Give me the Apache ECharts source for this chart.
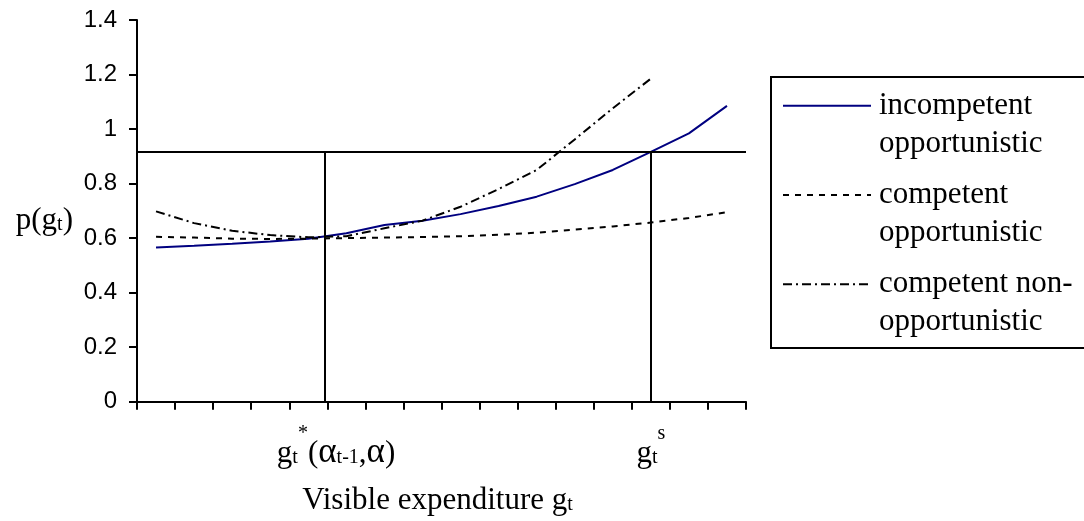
<!DOCTYPE html>
<html><head><meta charset="utf-8">
<script src="https://cdn.jsdelivr.net/npm/echarts@6.0.0/dist/echarts.min.js"></script>
<style>html,body{margin:0;padding:0;background:#fff}#c{width:1084px;height:521px}</style>
</head><body><div id="c"></div>
<script>
// x positions of the plotted points (centres of the 16 expenditure steps)
const xPositions = [0.5,1.5,2.5,3.5,4.5,5.5,6.5,7.5,8.5,9.5,10.5,11.5,12.5,13.5,14.5,15.5];
const seriesNames = ['incompetent\nopportunistic','competent\nopportunistic','competent non-\nopportunistic'];
const incompetentOpportunistic = [0.566,0.572,0.579,0.588,0.598,0.618,0.648,0.664,0.688,0.718,0.752,0.798,0.850,0.916,0.984,1.085];
const competentOpportunistic   = [0.605,0.602,0.598,0.597,0.598,0.600,0.602,0.604,0.607,0.612,0.620,0.631,0.643,0.657,0.674,0.695];
const competentNonOpportunistic= [0.698,0.655,0.627,0.611,0.603,0.607,0.636,0.664,0.715,0.780,0.850,0.962,1.076,1.185];
const yMin = 0, yMax = 1.4, yStep = 0.2;
const xMin = 0, xMax = 16, xStep = 1;
const gStar = 4.94, gS = 13.5, pThreshold = 0.916;
const xTickLabelValues = [gStar, gS];

function zip(xs, ys){ return ys.map((y,i)=>[xs[i], y]); }

const serif = 'Liberation Serif, Times New Roman, serif';
const richBase = {
  b:{fontFamily:serif,fontSize:31,color:'#000',lineHeight:34,verticalAlign:'bottom'},
  al:{fontFamily:serif,fontSize:35,color:'#000',lineHeight:34,verticalAlign:'bottom',padding:[0,0,-1,0]},
  g1:{fontFamily:serif,fontSize:31,color:'#000',lineHeight:34,verticalAlign:'bottom',padding:[0,0,0,22]},
  sub:{fontFamily:serif,fontSize:20,color:'#000',lineHeight:24,verticalAlign:'bottom',padding:[0,0,2,0]},
  sup:{fontFamily:serif,fontSize:20,color:'#000',lineHeight:46,verticalAlign:'top'}
};

const chart = echarts.init(document.getElementById('c'));
chart.setOption({
  animation:false,
  backgroundColor:'#fff',
  grid:{left:137,right:338,top:20,bottom:119.3,containLabel:false,outerBoundsMode:'none'},
  xAxis:{
    type:'value',min:xMin,max:xMax,interval:xStep,
    axisLine:{lineStyle:{color:'#000',width:2}},
    axisTick:{show:true,length:8,lineStyle:{color:'#000',width:2}},
    splitLine:{show:false},
    axisLabel:{
      customValues:xTickLabelValues,margin:22,
      formatter:function(v){
        if (Math.abs(v-gStar)<0.01) return '{g1|g}{sub|t}{sup|*}{b|(}{al|α}{sub|t-1}{b|,}{al|α}{b|)}';
        return '{b|g}{sub|t}{sup|s}';
      },
      rich:richBase
    },
    name:'{b|Visible expenditure g}{sub|t}',nameLocation:'middle',nameGap:81,
    nameTextStyle:{rich:richBase,padding:[0,8,0,0]}
  },
  yAxis:{
    type:'value',min:yMin,max:yMax,interval:yStep,
    axisLine:{show:true,lineStyle:{color:'#000',width:2}},
    axisTick:{show:true,length:8,lineStyle:{color:'#000',width:2}},
    splitLine:{show:false},
    axisLabel:{color:'#000',fontFamily:'Liberation Sans, Arial, sans-serif',fontSize:24,margin:20},
    name:'{b|p(g}{sub|t}{b|)}',nameLocation:'middle',nameRotate:0,nameGap:64,
    nameTextStyle:{rich:richBase,padding:[18,0,0,0]}
  },
  legend:{
    left:782,top:48.7,orient:'vertical',padding:0,itemGap:-24.7,
    itemWidth:88,itemHeight:14,
    data:seriesNames,
    formatter:function(n){ return '\u00a0\n' + n; },
    itemStyle:{color:'rgba(0,0,0,0)',borderColor:'rgba(0,0,0,0)',borderWidth:0},
    textStyle:{fontFamily:serif,fontSize:31,color:'#000',lineHeight:38,padding:[0,0,0,3]}
  },
  graphic:[{type:'rect',shape:{x:771,y:77,width:340,height:271},style:{fill:'none',stroke:'#000',lineWidth:2},silent:true}],
  series:[
    {name:seriesNames[0],type:'line',symbol:'none',data:zip(xPositions,incompetentOpportunistic),
     lineStyle:{color:'#000080',width:2},itemStyle:{color:'#000080'}},
    {name:seriesNames[1],type:'line',symbol:'none',data:zip(xPositions,competentOpportunistic),
     lineStyle:{color:'#000',width:2,type:[6,6]},itemStyle:{color:'#000'}},
    {name:seriesNames[2],type:'line',symbol:'none',data:zip(xPositions,competentNonOpportunistic),
     lineStyle:{color:'#000',width:2,type:[9,4,2,4]},itemStyle:{color:'#000'}},
    {name:'guides',type:'line',data:[],silent:true,
     markLine:{silent:true,symbol:['none','none'],label:{show:false},
       lineStyle:{color:'#000',width:2,type:'solid'},
       data:[
         [{coord:[xMin,pThreshold]},{coord:[xMax,pThreshold]}],
         [{coord:[gStar,yMin]},{coord:[gStar,pThreshold]}],
         [{coord:[gS,yMin]},{coord:[gS,pThreshold]}]
       ]}}
  ]
});
</script></body></html>
